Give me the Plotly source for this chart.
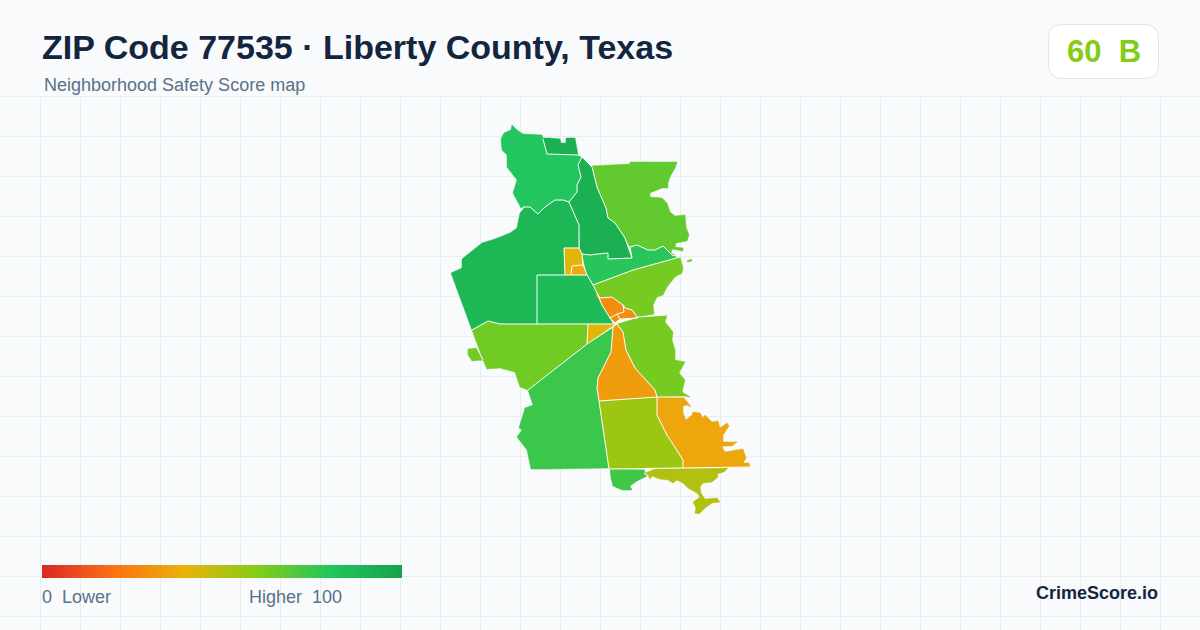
import plotly.graph_objects as go

TITLE = "ZIP Code 77535 · Liberty County, Texas"
SUBTITLE = "Neighborhood Safety Score map"
SCORE_TEXT = "60\u00a0\u00a0B"
LEGEND_LOW = "0\u00a0\u00a0Lower"
LEGEND_HIGH = "Higher\u00a0\u00a0100"
BRAND = "CrimeScore.io"

SCALE_STOPS = [0, 0.2, 0.4, 0.6, 0.8, 1]
SCALE_COLORS = ["#dc2626", "#f97316", "#eab308", "#84cc16", "#22c55e", "#16a34a"]

# Neighbourhood outlines (map units) and safety scores
north_x = [512,517,523,542,543,547,578,582,578,581,577,577,569,563,555,545,538,530,523,521,513,517,507,507,502,501,504,511]
north_y = [125,130,134,135,139,154,155,157,165,177,185,192,202,200,200,207,214,207,207,208,193,180,167,155,150,139,133,130]
north_score = 80

top_x = [543,549,560,561,566,566,575,578,578,547]
top_y = [138,138,139,143,143,138,138,153,155,154]
top_score = 92

strip_x = [582,592,597,606,608,615,625,632,608,608,598,590,582,580,579,569,577,577,581,578]
strip_y = [157,167,187,208,218,223,238,258,259,253,254,255,254,252,225,202,192,185,177,165]
strip_score = 92

east_top_x = [592,630,630,677,675,670,668,668,662,650,650,662,667,670,675,685,686,689,687,676,675,683,683,672,671,675,672,667,663,655,648,637,630,625,615,608,606,597]
east_top_y = [166,164,162,162,168,177,183,188,188,193,197,198,203,212,216,215,227,235,241,243,247,248,251,249,253,255,255,252,246,250,250,245,247,238,223,218,208,187]
east_top_score = 67

band_x = [582,590,598,608,608,632,630,637,648,655,663,667,672,680,633,593,587]
band_y = [254,255,254,253,259,258,247,245,250,250,246,250,255,257,270,285,275]
band_score = 79

islet_x = [687,691,692,688]
islet_y = [261,259,261,262]
islet_score = 63

middle_x = [593,633,680,683,682,675,667,663,657,653,654,638,632,625,623,612,600,597]
middle_y = [285,270,257,268,273,277,287,295,297,305,314,317,310,308,305,297,298,293]
middle_score = 63

orange_a_x = [597,600,612,623,624,617,612,610,602,596]
orange_a_y = [293,298,297,305,312,314,317,318,305,295]
orange_a_score = 28

orange_b_x = [623,625,632,638,620,617,624]
orange_b_y = [305,308,310,318,319,314,312]
orange_b_score = 28

orange_c_x = [612,617,620,615,610]
orange_c_y = [317,314,319,323,318]
orange_c_score = 28

yellow_top_x = [564,579,582,583,572,571,565]
yellow_top_y = [248,248,255,265,266,274,275]
yellow_top_score = 42

amber_x = [572,583,587,565,571]
amber_y = [266,265,275,275,274]
amber_score = 37

west_x = [569,579,579,564,565,537,537,500,488,472,451,462,462,467,482,495,510,517,520,525,530,538,545,555,563]
west_y = [202,225,248,248,275,275,324,324,321,330,273,268,259,255,243,239,233,228,213,207,207,214,207,200,200]
west_score = 88

centre_x = [537,587,593,597,613,537]
centre_y = [275,275,285,293,324,324]
centre_score = 86

west_lime_x = [472,488,500,588,587,528,520,515,500,487,483]
west_lime_y = [330,321,324,324,344,390,387,372,368,369,360]
west_lime_score = 64

west_isle_x = [468,477,483,472,468]
west_isle_y = [349,348,360,361,355]
west_isle_score = 64

yellow_mid_x = [588,615,587]
yellow_mid_y = [324,324,344]
yellow_mid_score = 42

southwest_x = [528,587,613,611,598,597,599,609,550,531,527,517,522,519,525,533]
southwest_y = [390,344,327,352,378,388,400,468,469,469,450,437,430,428,408,405]
southwest_score = 75

central_orange_x = [613,617,623,626,635,655,657,599,597,598,611]
central_orange_y = [327,324,332,350,368,390,397,401,388,378,352]
central_orange_score = 33

east_lime_x = [617,638,667,665,673,672,675,675,685,679,685,682,690,685,657,655,635,626,623]
east_lime_y = [324,317,315,322,332,340,350,360,362,373,380,392,397,396,397,390,368,350,332]
east_lime_score = 63

south_x = [599,657,657,667,677,683,683,609]
south_y = [401,397,415,435,450,460,468,469]
south_score = 55

southeast_x = [657,683,688,691,687,683,683,686,692,693,700,703,705,712,718,720,727,729,723,723,737,732,724,722,725,735,743,746,743,749,750,683,683,677,667,657]
southeast_y = [397,397,403,407,405,406,413,420,415,412,413,418,415,422,421,428,423,426,435,442,442,446,446,447,452,450,449,458,463,463,467,468,460,450,435,415]
southeast_score = 36

south_green_x = [610,645,644,647,637,630,632,622,613,611]
south_green_y = [469,470,474,476,481,486,490,490,486,478]
south_green_score = 74

bay_x = [645,655,728,724,717,718,712,703,700,701,705,717,720,712,705,699,695,696,693,700,697,693,688,683,677,673,668,660,652,650,648]
bay_y = [473,469,468,472,474,477,482,483,487,493,499,498,502,503,508,514,513,508,502,497,493,491,488,483,480,483,480,479,476,479,475]
bay_score = 51

AREAS = [
    (west_x, west_y, west_score), (north_x, north_y, north_score), (top_x, top_y, top_score),
    (strip_x, strip_y, strip_score), (east_top_x, east_top_y, east_top_score),
    (band_x, band_y, band_score), (islet_x, islet_y, islet_score), (middle_x, middle_y, middle_score),
    (centre_x, centre_y, centre_score), (yellow_top_x, yellow_top_y, yellow_top_score),
    (amber_x, amber_y, amber_score), (orange_a_x, orange_a_y, orange_a_score),
    (orange_b_x, orange_b_y, orange_b_score), (orange_c_x, orange_c_y, orange_c_score),
    (west_lime_x, west_lime_y, west_lime_score), (west_isle_x, west_isle_y, west_isle_score),
    (yellow_mid_x, yellow_mid_y, yellow_mid_score), (southwest_x, southwest_y, southwest_score),
    (east_lime_x, east_lime_y, east_lime_score), (central_orange_x, central_orange_y, central_orange_score),
    (south_green_x, south_green_y, south_green_score), (bay_x, bay_y, bay_score),
    (south_x, south_y, south_score), (southeast_x, southeast_y, southeast_score),
]

# Internal boundaries between neighbourhoods (map units)
BOUNDARIES = [
    ([543,547,578,582], [139,154,155,157]),
    ([582,578,581,577,577,569], [157,165,177,185,192,202]),
    ([569,563,555,545,538,530,523], [202,200,200,207,214,207,207]),
    ([569,579,579,582,583,587,593,597,602,610,615], [202,225,248,254,265,275,285,293,305,318,324]),
    ([582,592,597,606,608,615,625,632], [157,167,187,208,218,223,238,258]),
    ([582,590,598,608,608,632], [254,255,254,253,259,258]),
    ([632,630,637,648,655,663,667,672,680], [258,247,245,250,250,246,250,255,257]),
    ([593,633,680], [285,270,257]),
    ([579,564,565,537,537], [248,248,275,275,324]),
    ([565,587], [275,275]),
    ([571,572,583], [274,266,265]),
    ([472,488,500,588,615], [330,321,324,324,324]),
    ([477,483], [348,360]),
    ([588,587], [324,344]),
    ([528,587,613,617], [390,344,327,324]),
    ([597,600,612,623,625,632,638], [293,298,297,305,308,310,318]),
    ([623,624,617,612,610], [305,312,314,317,318]),
    ([617,620], [314,319]),
    ([610,615,620,638], [318,323,319,318]),
    ([615,638,667], [324,317,315]),
    ([613,611,598,597,599,609], [327,352,378,388,401,469]),
    ([617,623,626,635,655,657], [324,332,350,368,390,397]),
    ([599,657,683], [401,397,397]),
    ([657,657,667,677,683,683], [397,415,435,450,460,468]),
    ([609,683,750], [469,468,467]),
]

scale = [[s, c] for s, c in zip(SCALE_STOPS, SCALE_COLORS)]
FONT = "Liberation Sans, Arial, sans-serif"
W, H, HEADER = 1200, 630, 96

def px(x):
    return x / W

def py(y):
    return 1 - y / H

def score_color(score):
    t = score / 100
    for i in range(len(SCALE_STOPS) - 1):
        if t <= SCALE_STOPS[i + 1]:
            f = (t - SCALE_STOPS[i]) / (SCALE_STOPS[i + 1] - SCALE_STOPS[i])
            a = SCALE_COLORS[i]
            b = SCALE_COLORS[i + 1]
            rgb = [round(int(a[j:j+2], 16) * (1 - f) + int(b[j:j+2], 16) * f) for j in (1, 3, 5)]
            return f"rgb({rgb[0]},{rgb[1]},{rgb[2]})"
    return SCALE_COLORS[-1]

fig = go.Figure()
for xs, ys, score in AREAS:
    color = score_color(score)
    fig.add_trace(go.Scatter(
        x=xs + xs[:1], y=ys + ys[:1], mode="lines", fill="toself",
        fillcolor=color, line=dict(color=color, width=0.5),
        hoverinfo="skip", showlegend=False,
    ))
for xs, ys in BOUNDARIES:
    fig.add_trace(go.Scatter(
        x=xs, y=ys, mode="lines", line=dict(color="#ffffff", width=1),
        hoverinfo="skip", showlegend=False,
    ))

# Legend ramp: the library's own colorbar
fig.add_trace(go.Scatter(
    x=[None], y=[None], mode="markers", showlegend=False, hoverinfo="skip",
    marker=dict(
        color=[0], cmin=0, cmax=100, colorscale=scale, showscale=True,
        colorbar=dict(
            orientation="h", thickness=13, thicknessmode="pixels", len=360, lenmode="pixels",
            x=px(42), xanchor="left", y=py(565), yanchor="top", xpad=0, ypad=0,
            outlinewidth=0, ticks="", showticklabels=False,
        ),
    ),
))

def note(x, y, text, size, color, anchor="left", bold=False):
    fig.add_annotation(
        xref="paper", yref="paper", x=px(x), y=py(y), xanchor=anchor, yanchor="middle",
        text=f"<b>{text}</b>" if bold else text, showarrow=False,
        font=dict(family=FONT, size=size, color=color),
    )

note(40, 47, TITLE, 34, "#14263f", bold=True)
note(42, 85, SUBTITLE, 18, "#5b7089")
note(1103.5, 51, SCORE_TEXT, 31, "#84cc16", anchor="center", bold=True)
note(40, 597, LEGEND_LOW, 18, "#5b7089")
note(247, 597, LEGEND_HIGH, 18, "#5b7089")
note(1160, 593, BRAND, 18, "#14263f", anchor="right", bold=True)

x0, x1, y0, y1, r = px(1048.5), px(1158.5), py(24.5), py(78.5), 14
rx, ry = r / W, r / H
fig.add_shape(
    type="path", xref="paper", yref="paper", layer="below",
    path=(f"M {x0+rx} {y0} L {x1-rx} {y0} Q {x1} {y0} {x1} {y0-ry} L {x1} {y1+ry} "
          f"Q {x1} {y1} {x1-rx} {y1} L {x0+rx} {y1} Q {x0} {y1} {x0} {y1+ry} "
          f"L {x0} {y0-ry} Q {x0} {y0} {x0+rx} {y0} Z"),
    fillcolor="#ffffff", line=dict(color="#dfe5ee", width=1),
)
fig.add_shape(
    type="line", xref="paper", yref="paper", layer="below",
    x0=0, x1=1, y0=py(HEADER + 0.5), y1=py(HEADER + 0.5),
    line=dict(color="#e6eef2", width=1),
)

grid = dict(showgrid=True, gridcolor="#e6eef2", gridwidth=1, zeroline=False,
            showticklabels=False, ticks="", showline=False, fixedrange=True)
fig.update_layout(
    width=W, height=H, margin=dict(l=0, r=0, t=0, b=0), autosize=False,
    paper_bgcolor="#f8fafc", plot_bgcolor="#f8fafc", showlegend=False,
    xaxis=dict(range=[0, W], tick0=0, dtick=40, **grid),
    yaxis=dict(range=[H, HEADER], domain=[0, 1 - HEADER / H], tick0=HEADER, dtick=40, **grid),
)

fig.write_html("out.html", post_script="document.body.style.margin='0';document.body.style.overflow='hidden';",
               config=dict(displayModeBar=False))
